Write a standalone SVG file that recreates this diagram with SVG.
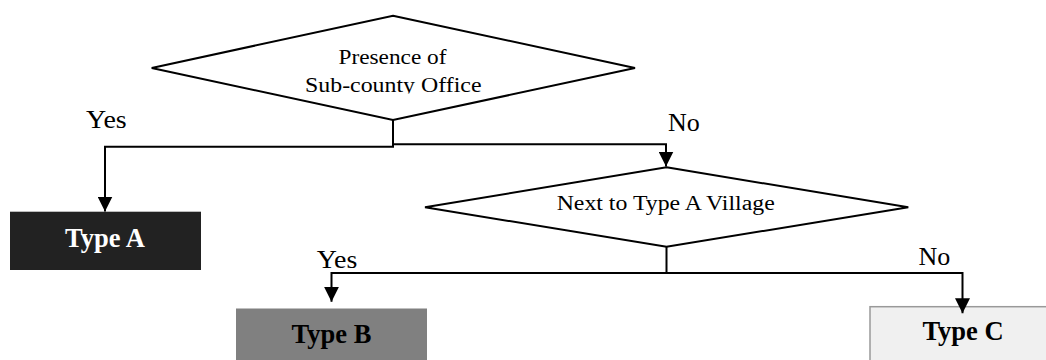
<svg xmlns="http://www.w3.org/2000/svg" width="1046" height="360" viewBox="0 0 1046 360">
<style>
.dia{fill:#fff;stroke:#000;stroke-width:2}
text{font-family:'Liberation Serif','Times New Roman',Times,serif}
.t{fill:#000}
.lbl{font-size:26px;fill:#000}
.bx{font-size:26.5px;font-weight:bold;text-anchor:middle}
.con{fill:none;stroke:#000;stroke-width:2}
</style>
<defs>
<marker id="ah" markerUnits="userSpaceOnUse" markerWidth="15" markerHeight="15" refX="15" refY="7.5" orient="auto">
<path d="M0,0 L15,7.5 L0,15 z" fill="#000"/>
</marker>
<clipPath id="clip1"><rect x="150" y="40" width="490" height="53.5"/></clipPath>
</defs>
<rect width="1046" height="360" fill="#fff"/>
<g id="decision1">
<polygon class="dia" points="393,15.7 635,68 393,120 151.7,68"/>
<g clip-path="url(#clip1)">
<text class="t" font-family="Liberation Serif, serif" font-size="21.5" x="338.5" y="64.3" textLength="108" lengthAdjust="spacingAndGlyphs">Presence of</text>
<text class="t" font-family="Liberation Serif, serif" font-size="21.5" x="305" y="91.7" textLength="176.5" lengthAdjust="spacingAndGlyphs">Sub-county Office</text>
</g>
</g>
<g id="decision2">
<polygon class="dia" points="666.5,167.3 908.3,207.3 666.5,246.7 425,207.3"/>
<text class="t" font-family="Liberation Serif, serif" font-size="20" x="556.7" y="210" textLength="218" lengthAdjust="spacingAndGlyphs">Next to Type A Village</text>
</g>
<g id="typeA">
<rect x="10" y="211.7" width="191" height="58.3" fill="#222"/>
<text class="bx" x="105" y="246.7" fill="#fff">Type A</text>
</g>
<g id="typeB">
<rect x="236" y="308.5" width="191" height="60" fill="#808080"/>
<text class="bx" x="331.5" y="343" fill="#000">Type B</text>
</g>
<g id="typeC">
<rect x="870" y="306.7" width="191" height="60" fill="#f0f0f0" stroke="#999" stroke-width="1.5"/>
<text class="bx" x="963" y="340" fill="#000">Type C</text>
</g>
<g id="connectors">
<path class="con" d="M393,120 V146.7 H105 V211.5" marker-end="url(#ah)"/>
<path class="con" d="M393,144.3 H666 V166.5" marker-end="url(#ah)"/>
<path class="con" d="M666.5,246.7 V273 H331.5 V301.7" marker-end="url(#ah)"/>
<path class="con" d="M666.5,273 H962.5 V313.3" marker-end="url(#ah)"/>
<text class="lbl" font-family="Liberation Serif, serif" x="86" y="128.3" textLength="40.7" lengthAdjust="spacingAndGlyphs">Yes</text>
<text class="lbl" font-family="Liberation Serif, serif" x="668" y="131">No</text>
<text class="lbl" font-family="Liberation Serif, serif" x="316.7" y="268.3" textLength="40.6" lengthAdjust="spacingAndGlyphs">Yes</text>
<text class="lbl" font-family="Liberation Serif, serif" x="918.5" y="265">No</text>
</g>
</svg>
